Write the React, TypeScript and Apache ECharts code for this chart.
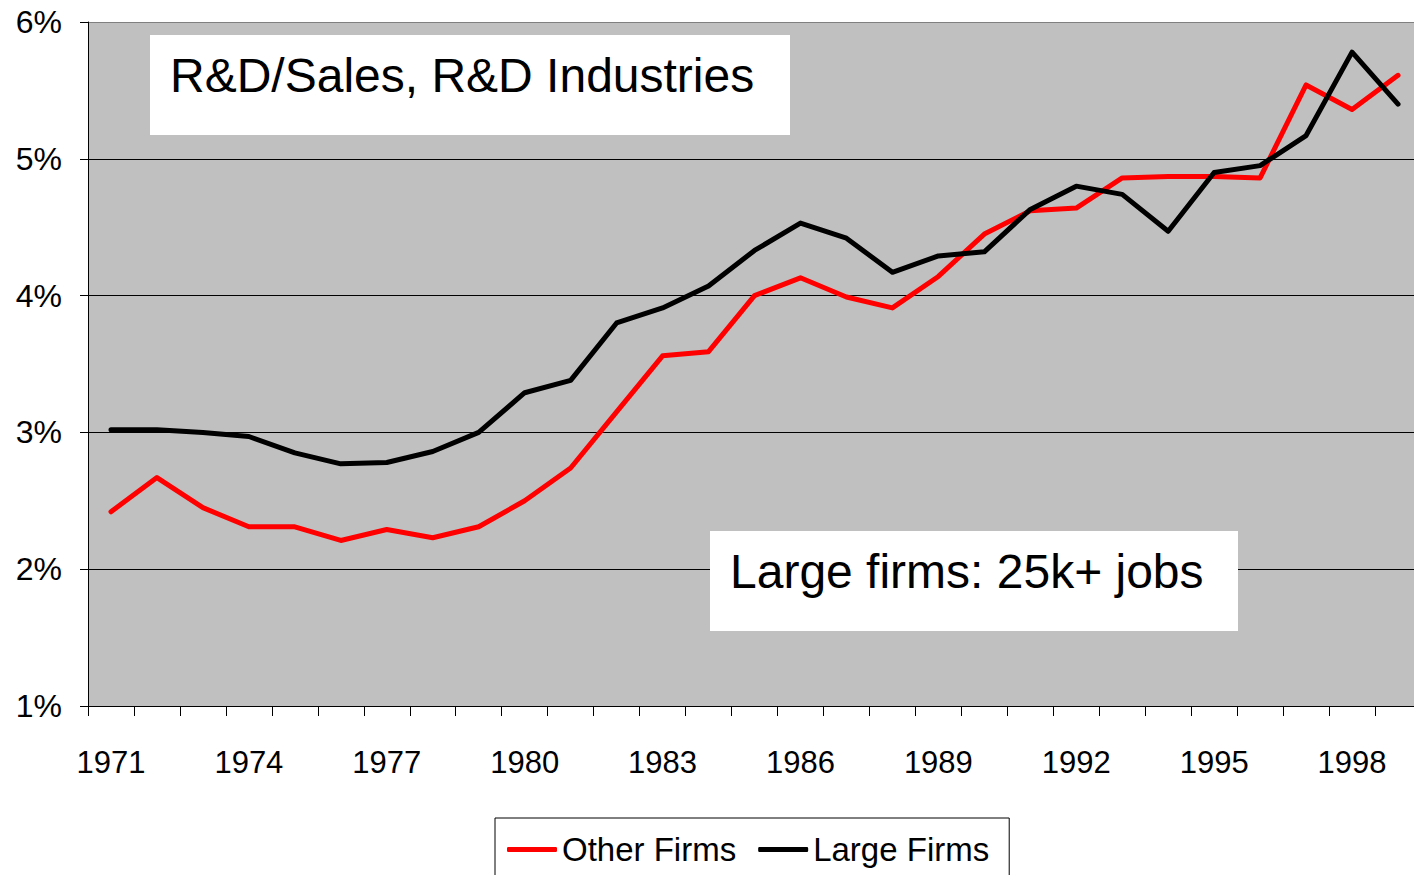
import React, { useEffect, useRef } from "react";
import * as echarts from "echarts";

const years = [
  "1971", "1972", "1973", "1974", "1975", "1976", "1977", "1978", "1979", "1980",
  "1981", "1982", "1983", "1984", "1985", "1986", "1987", "1988", "1989", "1990",
  "1991", "1992", "1993", "1994", "1995", "1996", "1997", "1998", "1999",
];
const otherFirms = [
  2.42, 2.67, 2.45, 2.31, 2.31, 2.21, 2.29, 2.23, 2.31, 2.5,
  2.74, 3.15, 3.56, 3.59, 4.0, 4.13, 3.99, 3.91, 4.14, 4.45,
  4.62, 4.64, 4.86, 4.87, 4.87, 4.86, 5.54, 5.36, 5.61,
];
const largeFirms = [
  3.02, 3.02, 3.0, 2.97, 2.85, 2.77, 2.78, 2.86, 3.0, 3.29,
  3.38, 3.8, 3.91, 4.07, 4.33, 4.53, 4.42, 4.17, 4.29, 4.32,
  4.63, 4.8, 4.74, 4.47, 4.9, 4.95, 5.17, 5.78, 5.4,
];
const seriesNames = ["Other Firms", "Large Firms"];
const titleText = "R&D/Sales, R&D Industries";
const noteText = "Large firms: 25k+ jobs";

const FONT = "'Liberation Sans', Arial, sans-serif";

export default function App() {
  const ref = useRef<HTMLDivElement>(null);
  useEffect(() => {
    if (!ref.current) return;
    const chart = echarts.init(ref.current, undefined, { renderer: "svg" });
    chart.setOption({
      animation: false,
      textStyle: { fontFamily: FONT },
      grid: {
        left: 88,
        top: 22,
        right: 0,
        bottom: 169,
        show: true,
        backgroundColor: "#c0c0c0",
        borderWidth: 0,
      },
      xAxis: {
        type: "category",
        data: years,
        boundaryGap: true,
        axisLine: { show: true, lineStyle: { color: "#000", width: 1 } },
        axisTick: { show: true, interval: 0, length: 10, lineStyle: { color: "#000" } },
        axisLabel: {
          interval: 2,
          fontSize: 31,
          color: "#000",
          margin: 41,
          fontFamily: FONT,
        },
        splitLine: { show: false },
      },
      yAxis: {
        type: "value",
        min: 1,
        max: 6,
        interval: 1,
        axisLine: { show: true, lineStyle: { color: "#000", width: 1 } },
        axisTick: { show: true, length: 8, lineStyle: { color: "#000" } },
        axisLabel: {
          formatter: "{value}%",
          fontSize: 32,
          color: "#000",
          margin: 26,
          fontFamily: FONT,
        },
        splitLine: {
          show: true,
          lineStyle: {
            color: ["#000", "#000", "#000", "#000", "#000", "#808080"],
            width: 1,
          },
        },
      },
      legend: {
        data: seriesNames,
        left: 495,
        top: 818,
        orient: "horizontal",
        borderColor: "#000",
        borderWidth: 1,
        padding: [15, 20, 30, 12],
        itemWidth: 50,
        itemHeight: 5,
        itemGap: 22,
        icon: "roundRect",
        textStyle: { fontSize: 33, color: "#000", fontFamily: FONT },
      },
      series: [
        {
          name: seriesNames[0],
          type: "line",
          data: otherFirms,
          symbol: "none",
          lineStyle: { color: "#ff0000", width: 5, cap: "round", join: "round" },
          itemStyle: { color: "#ff0000" },
        },
        {
          name: seriesNames[1],
          type: "line",
          data: largeFirms,
          symbol: "none",
          lineStyle: { color: "#000000", width: 5, cap: "round", join: "round" },
          itemStyle: { color: "#000000" },
        },
      ],
      graphic: [
        {
          type: "rect",
          left: 150,
          top: 35,
          shape: { width: 640, height: 100 },
          style: { fill: "#ffffff" },
          z: 10,
        },
        {
          type: "text",
          x: 170,
          y: 75,
          style: {
            text: titleText,
            font: `48px ${FONT}`,
            fill: "#000",
            verticalAlign: "middle",
          },
          z: 11,
        },
        {
          type: "rect",
          left: 710,
          top: 531,
          shape: { width: 528, height: 100 },
          style: { fill: "#ffffff" },
          z: 10,
        },
        {
          type: "text",
          x: 730,
          y: 571,
          style: {
            text: noteText,
            font: `48px ${FONT}`,
            fill: "#000",
            verticalAlign: "middle",
          },
          z: 11,
        },
      ],
    });
    return () => chart.dispose();
  }, []);
  return (
    <div
      style={{
        position: "absolute",
        left: 0,
        top: 0,
        width: 1414,
        height: 875,
        overflow: "hidden",
      }}
    >
      <div ref={ref} style={{ width: 1421, height: 875 }} />
    </div>
  );
}
